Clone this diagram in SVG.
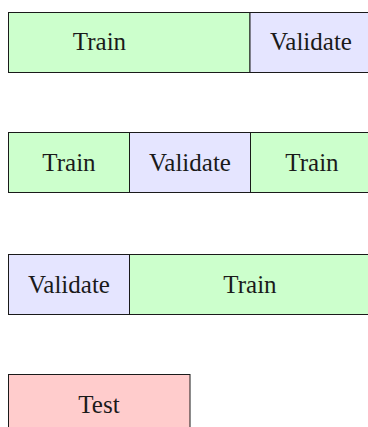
<svg xmlns="http://www.w3.org/2000/svg" width="368" height="427" viewBox="0 0 368 427">
<style>
rect{stroke:#1a1a1a;stroke-width:1}
.tr{fill:#ccffcc}
.va{fill:#e5e5ff}
.te{fill:#ffcccc}
text{font-size:25px;fill:#1a1a1a;text-anchor:middle}
</style>
<rect width="368" height="427" fill="#ffffff" style="stroke:none"/>
<g font-family="'Liberation Serif', 'DejaVu Serif', serif">
<g id="row1">
<g id="r1-train"><rect class="tr" x="8.5" y="12.5" width="241.5" height="60"/><text x="99.5" y="50">Train</text></g>
<g id="r1-validate"><rect class="va" x="250" y="12.5" width="121" height="60"/><text x="311" y="50">Validate</text></g>
</g>
<g id="row2">
<g id="r2-train1"><rect class="tr" x="8.5" y="132.5" width="121" height="60"/><text x="69" y="171">Train</text></g>
<g id="r2-validate"><rect class="va" x="129.5" y="132.5" width="121" height="60"/><text x="190" y="171">Validate</text></g>
<g id="r2-train2"><rect class="tr" x="250.5" y="132.5" width="121" height="60"/><text x="312" y="171">Train</text></g>
</g>
<g id="row3">
<g id="r3-validate"><rect class="va" x="8.5" y="254.5" width="121" height="60"/><text x="69" y="293">Validate</text></g>
<g id="r3-train"><rect class="tr" x="129.5" y="254.5" width="242" height="60"/><text x="250" y="293">Train</text></g>
</g>
<g id="row4">
<g id="test"><rect class="te" x="8.5" y="374.5" width="181.5" height="60"/><text x="99" y="413">Test</text></g>
</g>
</g>
<g id="connectors"></g>
</svg>
